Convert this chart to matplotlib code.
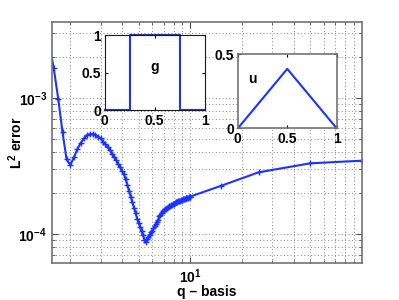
import matplotlib
matplotlib.use("Agg")
import matplotlib.pyplot as plt
from matplotlib.ticker import LogLocator, NullFormatter

plt.rcParams['font.family'] = ['Liberation Sans', 'DejaVu Sans']
plt.rcParams['font.weight'] = 'bold'
plt.rcParams['mathtext.fontset'] = 'custom'
plt.rcParams['mathtext.rm'] = 'Liberation Sans:bold'
plt.rcParams['mathtext.bf'] = 'Liberation Sans:bold'

# q values (x) and L2 error (y)
q = [1.5, 1.6, 1.7, 1.8, 1.9,
     2.0, 2.1, 2.2, 2.3, 2.4, 2.5, 2.6, 2.7, 2.8, 2.9,
     3.0, 3.1, 3.2, 3.3, 3.4, 3.5, 3.6, 3.7, 3.8, 3.9,
     4.0, 4.1, 4.2, 4.3, 4.4, 4.5, 4.6, 4.7, 4.8, 4.9,
     5.0, 5.1, 5.2, 5.3, 5.4, 5.5, 5.6, 5.7, 5.8, 5.9,
     6.0, 6.1, 6.2, 6.3, 6.4, 6.5, 6.6, 6.7, 6.8, 6.9,
     7.0, 7.1, 7.2, 7.3, 7.4, 7.5, 7.6, 7.7, 7.8, 7.9,
     8.0, 8.1, 8.2, 8.3, 8.4, 8.5, 8.6, 8.7, 8.8, 8.9,
     9.0, 9.1, 9.2, 9.3, 9.4, 9.5, 9.6, 9.7, 9.8, 9.9,
     10.0, 15.0, 25.0, 50.0, 100.0]
err = [2.64e-3, 1.66e-3, 9.88e-4, 5.62e-4, 3.55e-4,
       3.23e-4, 3.69e-4, 4.23e-4, 4.70e-4, 5.06e-4, 5.35e-4, 5.44e-4, 5.46e-4, 5.36e-4, 5.23e-4,
       5.06e-4, 4.80e-4, 4.58e-4, 4.37e-4, 4.13e-4, 3.91e-4, 3.69e-4, 3.49e-4, 3.30e-4, 3.10e-4,
       2.92e-4, 2.76e-4, 2.53e-4, 2.29e-4, 2.07e-4, 1.88e-4, 1.71e-4, 1.56e-4, 1.42e-4, 1.30e-4,
       1.21e-4, 1.13e-4, 1.05e-4, 9.80e-5, 9.11e-5, 8.81e-5, 9.22e-5, 9.55e-5, 9.90e-5, 1.03e-4,
       1.06e-4, 1.10e-4, 1.14e-4, 1.19e-4, 1.23e-4, 1.28e-4, 1.35e-4, 1.39e-4, 1.44e-4, 1.47e-4,
       1.50e-4, 1.52e-4, 1.54e-4, 1.56e-4, 1.58e-4, 1.60e-4, 1.62e-4, 1.64e-4, 1.65e-4, 1.67e-4,
       1.68e-4, 1.70e-4, 1.71e-4, 1.72e-4, 1.73e-4, 1.74e-4, 1.75e-4, 1.76e-4, 1.77e-4, 1.78e-4,
       1.79e-4, 1.80e-4, 1.81e-4, 1.82e-4, 1.83e-4, 1.84e-4, 1.85e-4, 1.86e-4, 1.87e-4, 1.88e-4,
       1.89e-4, 2.26e-4, 2.85e-4, 3.32e-4, 3.47e-4]

# inset data
g_x = [0, 0.25, 0.25, 0.75, 0.75, 1]
g_y = [0, 0, 1, 1, 0, 0]
u_x = [0, 0.5, 1]
u_y = [0, 0.4, 0]

x_ticks = [10]
x_ticklabels = [r'$10^{1}$']
y_ticks = [1e-4, 1e-3]
y_ticklabels = [r'$10^{-4}$', r'$10^{-3}$']

blue = '#1a33ff'
gridkw = dict(color='0.5', linestyle=(0, (1, 2.5)), linewidth=0.7)

fig = plt.figure(figsize=(3.99, 3.0), dpi=100)
ax = fig.add_axes([0.13, 0.124, 0.777, 0.802])
ax.plot(q, err, '-+', color=blue, lw=1.5, ms=5, mew=1.0)
ax.set_xscale('log')
ax.set_yscale('log')
ax.set_xlim(1.56, 100)
ax.set_ylim(6.15e-5, 3.63e-3)
ax.set_xticks(x_ticks)
ax.set_xticklabels(x_ticklabels)
ax.set_yticks(y_ticks)
ax.set_yticklabels(y_ticklabels)
ax.xaxis.set_minor_locator(LogLocator(base=10, subs=range(2, 10)))
ax.yaxis.set_minor_locator(LogLocator(base=10, subs=range(2, 10)))
ax.xaxis.set_minor_formatter(NullFormatter())
ax.yaxis.set_minor_formatter(NullFormatter())
ax.grid(True, which='both', **gridkw)
ax.tick_params(which='both', direction='in', top=True, right=True, labelsize=10, color='0.3')
ax.tick_params(which='major', length=4)
ax.tick_params(which='minor', length=2)
for s in ax.spines.values():
    s.set_color('0.45')
    s.set_linewidth(1.2)
ax.set_xlabel('q \u2013 basis', fontsize=10, fontweight='bold')
ax.xaxis.set_label_coords(0.5, -0.093)
ax.set_ylabel(r'L$^{2}$ error', fontsize=10, fontweight='bold')
ax.yaxis.set_label_coords(-0.088, 0.5)

# inset g
axg = fig.add_axes([0.262, 0.633, 0.251, 0.25])
axg.plot(g_x, g_y, color=blue, lw=1.5, clip_on=False)
axg.set_xlim(0, 1)
axg.set_ylim(0, 1)
axg.set_xticks([0, 0.5, 1])
axg.set_xticklabels(['0', '0.5', '1'])
axg.set_yticks([0, 0.5, 1])
axg.set_yticklabels(['0', '0.5', '1'])
axg.tick_params(direction='in', top=True, right=True, labelsize=10, length=2, pad=2.5)
for s in axg.spines.values():
    s.set_color('0.1')
axg.text(0.5, 0.58, 'g', ha='center', va='center', fontsize=10, fontweight='bold')

# inset u
axu = fig.add_axes([0.596, 0.572, 0.248, 0.248])
axu.plot(u_x, u_y, color=blue, lw=1.5)
axu.set_xlim(0, 1)
axu.set_ylim(0, 0.5)
axu.set_xticks([0, 0.5, 1])
axu.set_xticklabels(['0', '0.5', '1'])
axu.set_yticks([0, 0.5])
axu.set_yticklabels(['0', '0.5'])
axu.tick_params(direction='in', top=True, right=True, labelsize=10, length=2, pad=2.5)
for s in axu.spines.values():
    s.set_color('0.45')
    s.set_linewidth(1.2)
axu.text(0.15, 0.33, 'u', ha='center', va='center', fontsize=10, fontweight='bold')

fig.savefig('out.png', dpi=100)
